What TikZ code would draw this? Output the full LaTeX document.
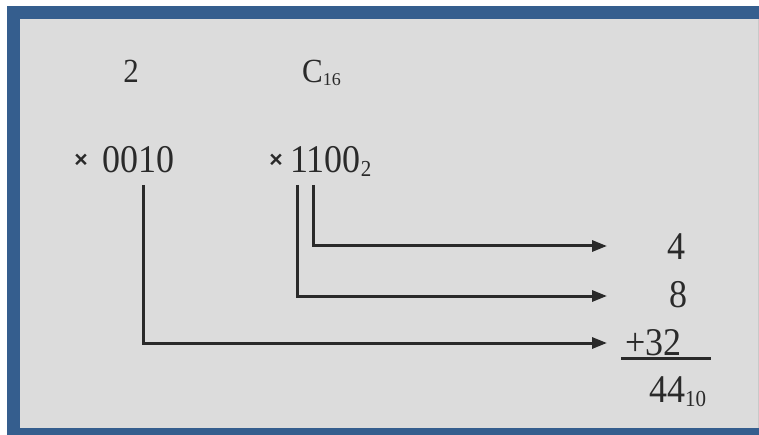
\documentclass[tikz,border=0pt]{standalone}
\usepackage{fontspec}
\setmainfont{Liberation Serif}
\newfontfamily\xsans{Liberation Sans}
\usetikzlibrary{arrows.meta}
\definecolor{bg}{HTML}{DCDCDC}
\definecolor{framec}{HTML}{355E8E}
\definecolor{ink}{HTML}{2A2A2A}
\newcommand\tallt[1]{\scalebox{1}[1.09]{#1}}
\begin{document}
\begin{tikzpicture}[x=1pt,y=-1pt,
  big/.style={inner sep=0pt,font=\fontsize{36}{40}\selectfont,text=ink},
  toprow/.style={inner sep=0pt,font=\fontsize{31}{36}\selectfont,text=ink},
  timesign/.style={inner sep=0pt,font=\xsans\bfseries\fontsize{23}{25}\selectfont,text=ink},
  conn/.style={line width=3pt,draw=ink,-{Triangle[length=15pt,width=11pt]}}]
\useasboundingbox (0,0) rectangle (759,435);
\fill[white] (0,0) rectangle (759,435);
\fill[framec] (7,6) rectangle (759,435);
\fill[bg] (20,19) rectangle (758,428);
\fill[bg!80!gray] (757.5,19) rectangle (759,428);
% texts
\node[toprow, anchor=base] (two) at (131,83) {\tallt{2}};
\node[toprow, anchor=base west] (c16) at (302,83) {\tallt{C}\raisebox{-3pt}{\fontsize{18}{20}\selectfont 16}};
\node[timesign] (x1) at (81,161) {×};
\node[big, anchor=base west] (a) at (102,173) {\tallt{0010}};
\node[timesign] (x2) at (276,161) {×};
\node[big, anchor=base west] (b) at (290,173) {\tallt{1100}\raisebox{-4pt}{\fontsize{21}{22}\selectfont\tallt{2}}};
\node[big, anchor=base] (n4) at (676,259) {\tallt{4}};
\node[big, anchor=base] (n8) at (678,307) {\tallt{8}};
\node[big, anchor=base west] (n32) at (625,355) {\tallt{+32}};
\node[big, anchor=base west] (sum) at (649,402) {\tallt{44}\raisebox{-4pt}{\fontsize{21}{22}\selectfont\tallt{10}}};
% underline
\coordinate (ulL) at (621,358);
\coordinate (ulR) at (711,358);
\draw[line width=3pt, ink] (ulL) -- (ulR);
% connectors
\coordinate (s1) at (143,185);
\coordinate (s2) at (297,185);
\coordinate (s3) at (313,185);
\coordinate (e1) at (607,246);
\coordinate (e2) at (607,296);
\coordinate (e3) at (607,343);
\draw[conn] (s3) |- (e1);
\draw[conn] (s2) |- (e2);
\draw[conn] (s1) |- (e3);
\end{tikzpicture}
\end{document}
